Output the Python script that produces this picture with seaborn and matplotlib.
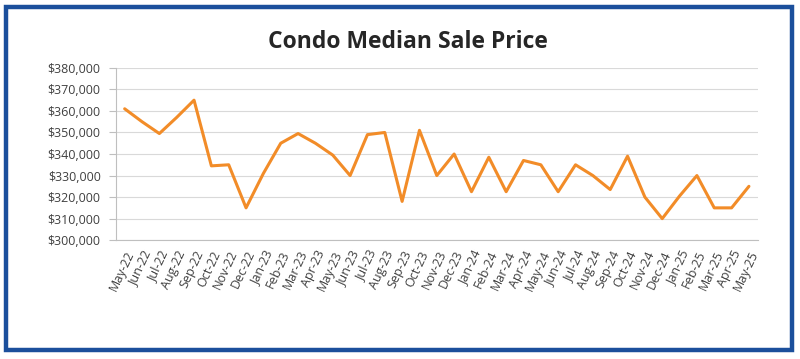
import numpy as np
import pandas as pd
import seaborn as sns
import matplotlib.pyplot as plt
from matplotlib.patches import Rectangle
from matplotlib.ticker import FuncFormatter, FixedLocator

# data
months = ["May-22", "Jun-22", "Jul-22", "Aug-22", "Sep-22", "Oct-22", "Nov-22", "Dec-22",
          "Jan-23", "Feb-23", "Mar-23", "Apr-23", "May-23", "Jun-23", "Jul-23", "Aug-23",
          "Sep-23", "Oct-23", "Nov-23", "Dec-23", "Jan-24", "Feb-24", "Mar-24", "Apr-24",
          "May-24", "Jun-24", "Jul-24", "Aug-24", "Sep-24", "Oct-24", "Nov-24", "Dec-24",
          "Jan-25", "Feb-25", "Mar-25", "Apr-25", "May-25"]
prices = [361000, 355000, 349500, 357000, 365000, 334500, 335000, 315000,
          331000, 345000, 349500, 345000, 339500, 330000, 349000, 350000,
          318000, 351000, 330000, 340000, 322500, 338500, 322500, 337000,
          335000, 322500, 335000, 330000, 323500, 339000, 320000, 310000,
          320500, 330000, 315000, 315000, 325000]
yticks = [300000, 310000, 320000, 330000, 340000, 350000, 360000, 370000, 380000]

df = pd.DataFrame({"idx": np.arange(len(months)), "month": months, "price": prices})

sns.set_style("white")
plt.rcParams["font.family"] = ["Open Sans", "DejaVu Sans"]

fig = plt.figure(figsize=(8.0, 3.59), dpi=100)
ax = fig.add_axes([0.145, 0.331, 0.802, 0.48])

sns.lineplot(data=df, x="idx", y="price", ax=ax, color="#F28C28", linewidth=2.2)

ax.set_xlim(-0.5, len(months) - 0.5)
ax.set_ylim(300000, 380000)
ax.set_yticks(yticks)
ax.yaxis.set_major_formatter(FuncFormatter(lambda v, p: f"${v:,.0f}"))
ax.set_xticks(df["idx"])
ax.set_xticklabels(months, rotation=65, ha="right", rotation_mode="anchor")
ax.xaxis.set_minor_locator(FixedLocator(np.arange(-0.5, len(months), 1)))
ax.tick_params(axis="x", which="major", length=0, pad=6, labelsize=9, labelcolor="#404040")
ax.tick_params(axis="x", which="minor", length=5, color="#BFBFBF", width=0.8, direction="out")
ax.tick_params(axis="y", length=5, color="#BFBFBF", width=0.8, labelsize=9,
               labelcolor="#404040", pad=6, left=True)
ax.set_xlabel("")
ax.set_ylabel("")

ax.grid(axis="y", color="#D9D9D9", linewidth=0.8)
ax.set_axisbelow(True)
for s in ["top", "right"]:
    ax.spines[s].set_visible(False)
for s in ["left", "bottom"]:
    ax.spines[s].set_color("#BFBFBF")
    ax.spines[s].set_linewidth(0.8)

fig.text(0.51, 0.882, "Condo Median Sale Price", ha="center", va="center",
         fontsize=16.5, fontweight="bold", color="#262626")

# blue frame around the chart
fig.patches.append(Rectangle((6 / 800, 1 - 350 / 359), 786 / 800, 343 / 359,
                             transform=fig.transFigure, fill=False,
                             edgecolor="#1B4F9C", linewidth=3.2, zorder=10))

fig.savefig("out.png", dpi=100)
